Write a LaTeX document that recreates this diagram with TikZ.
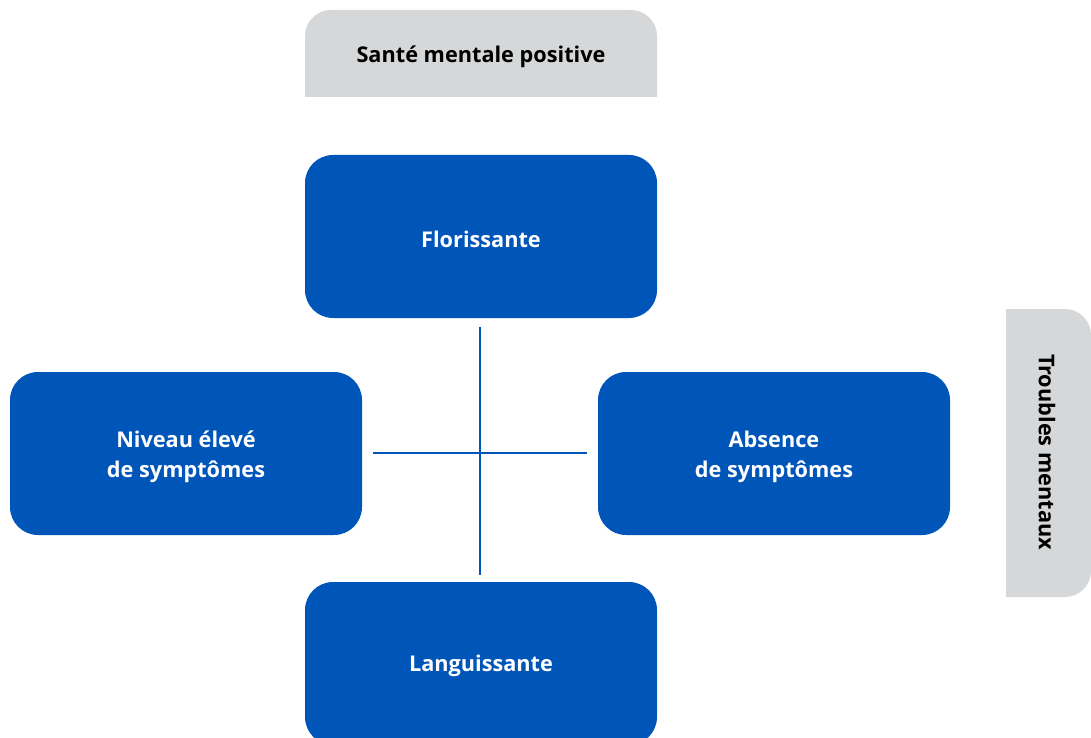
\documentclass[tikz,border=0pt]{standalone}
\usepackage{fontspec}
\setmainfont{Open Sans}
\definecolor{mblue}{HTML}{0055B8}
\definecolor{mgray}{HTML}{D5D7D8}
\tikzset{
  bluebox/.style={fill=mblue, rounded corners=28pt},
  boxtext/.style={text=white, font=\bfseries\fontsize{21.7pt}{30pt}\selectfont, align=center},
  graytext/.style={text=black, font=\bfseries\fontsize{21.7pt}{30pt}\selectfont, align=center},
  axis/.style={draw=mblue, line width=2pt}
}
\begin{document}
\begin{tikzpicture}[x=1pt,y=-1pt]
\useasboundingbox (0,0) rectangle (1091,738);
\clip (0,0) rectangle (1091,738);
% gray boxes
\fill[mgray] (305,97) {[rounded corners=26pt] -- (305,10) -- (657,10)} -- (657,97) -- cycle;
\node[graytext] (top) at (481,57) {Santé mentale positive};
\fill[mgray] (1006,309) {[rounded corners=26pt] -- (1091,309) -- (1091,597)} -- (1006,597) -- cycle;
\node[graytext, rotate=-90] (right) at (1047,452) {Troubles mentaux};
% blue boxes
\fill[bluebox] (305,155) rectangle (657,318);
\node[boxtext] (flor) at (481,239) {Florissante};
\fill[bluebox] (10,372) rectangle (362,535);
\node[boxtext] (niv) at (186,457) {Niveau élevé\\de symptômes};
\fill[bluebox] (598,372) rectangle (950,535);
\node[boxtext] (abs) at (774,457) {Absence\\de symptômes};
\fill[bluebox] (305,582) rectangle (657,745);
\node[boxtext] (lang) at (481,666) {Languissante};
% axes
\coordinate (vt) at (480,327);
\coordinate (vb) at (480,575);
\coordinate (hl) at (373,453);
\coordinate (hr) at (587,453);
\draw[axis] (vt) -- (vb);
\draw[axis] (hl) -- (hr);
\end{tikzpicture}
\end{document}
